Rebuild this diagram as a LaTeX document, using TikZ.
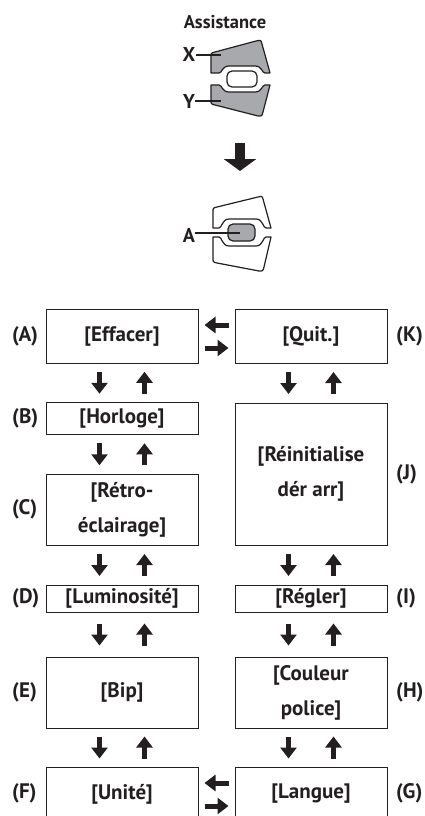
\documentclass[tikz,border=0pt]{standalone}
\usepackage{fontspec}
\setmainfont{PT Sans}
\usetikzlibrary{arrows.meta,calc}
\definecolor{ink}{HTML}{231F20}
\definecolor{paddle}{HTML}{A7A9AC}

\begin{document}
\begin{tikzpicture}[x=1pt,y=-1pt,
  box/.style={draw=ink, line width=0.9pt, minimum width=152pt, inner sep=0pt,
    align=center, text=ink, font=\fontsize{21}{35}\selectfont\bfseries},
  tag/.style={anchor=west, inner sep=0pt, text=ink, font=\fontsize{21}{24}\selectfont\bfseries},
  keylabel/.style={inner sep=0pt, text=ink, font=\fontsize{20}{24}\selectfont\bfseries},
  blk/.style={draw=ink, line width=5pt, -{Triangle[width=16pt,length=11pt]}},
  bigblk/.style={draw=ink, line width=10pt, -{Triangle[width=32pt,length=12pt]}},
  lever/.style={draw=ink, line width=1.2pt, line join=round},
  leader/.style={draw=ink, line width=1.2pt},
]
\useasboundingbox (0,0) rectangle (425,816);
\clip (0,0) rectangle (425,816);

% ---------- assistance switch: X / Y paddles ----------
\node[keylabel, font=\fontsize{18.5}{22}\selectfont\bfseries] (assist) at (225,22) {Assistance};

\draw[lever, fill=paddle] (211,73) -- (211,57) .. controls (211,53) .. (215,52)
  -- (256,41) .. controls (261,40) .. (262,44) -- (270,73) -- (265,73)
  .. controls (262,73) and (262,66) .. (255,66) -- (229,66)
  .. controls (222,66) and (222,73) .. (219,73) -- cycle;
\draw[lever, fill=paddle] (211,85) -- (219,85)
  .. controls (222,85) and (222,92) .. (229,92) -- (255,92)
  .. controls (262,92) and (262,85) .. (265,85) -- (270,85)
  -- (263,112) .. controls (262,116) .. (258,116)
  -- (215,105) .. controls (211,104) .. (211,100) -- cycle;
\draw[lever, fill=white, rounded corners=5pt] (227,71) rectangle (257,87);

\node[keylabel] (X) at (189,54) {X};
\node[keylabel] (Y) at (189,101) {Y};
\coordinate (xend) at (221,55);
\coordinate (yend) at (221,101);
\draw[leader] (X.east |- xend) -- (xend);
\draw[leader] (Y.east |- yend) -- (yend);

% ---------- big arrow ----------
\coordinate (bigtop) at (240,143);
\coordinate (bigtip) at (240,171);
\draw[bigblk] (bigtop) -- (bigtip);

% ---------- switch with button A ----------
\draw[lever, fill=white] (213,228) -- (213,212) .. controls (213,208) .. (217,207)
  -- (258,197) .. controls (262,196) .. (263,199) -- (271,228) -- (266,228)
  .. controls (263,228) and (263,219) .. (256,219) -- (229,219)
  .. controls (222,219) and (222,228) .. (219,228) -- cycle;
\draw[lever, fill=white] (213,237) -- (219,237)
  .. controls (222,237) and (222,246) .. (229,246) -- (256,246)
  .. controls (263,246) and (263,237) .. (266,237) -- (271,237)
  -- (264,267) .. controls (263,271) .. (259,271)
  -- (217,263) .. controls (213,262) .. (213,258) -- cycle;
\draw[lever, fill=paddle, rounded corners=5pt] (228,224) rectangle (255,241);

\node[keylabel] (keyA) at (189,235) {A};
\coordinate (aend) at (240,233);
\draw[leader] (keyA.east |- aend) -- (aend);

% ---------- menu boxes ----------
\node[box, minimum height=54pt] (A) at (122,336) {[Effacer]};
\node[box, minimum height=32pt] (B) at (122,418.5) {[Horloge]};
\node[box, minimum height=71pt] (C) at (122,509.5) {[Rétro-\\éclairage]};
\node[box, minimum height=27pt] (D) at (122,598.5) {[Luminosité]};
\node[box, minimum height=71pt] (E) at (122,692.5) {[Bip]};
\node[box, minimum height=54pt] (F) at (122,794) {[Unité]};

\node[box, minimum height=54pt] (K) at (311,336) {[Quit.]};
\node[box, minimum height=142pt] (J) at (311,474) {[Réinitialise\\dér arr]};
\node[box, minimum height=27pt] (I) at (311,598.5) {[Régler]};
\node[box, minimum height=71pt] (H) at (311,692.5) {[Couleur\\police]};
\node[box, minimum height=54pt] (G) at (311,794) {[Langue]};

% ---------- side tags ----------
\node[tag] (tA) at (12,336) {(A)};
\node[tag] (tB) at (12,418.5) {(B)};
\node[tag] (tC) at (12,509.5) {(C)};
\node[tag] (tD) at (12,598.5) {(D)};
\node[tag] (tE) at (12,692.5) {(E)};
\node[tag] (tF) at (12,793) {(F)};
\node[tag] (tK) at (396,336) {(K)};
\node[tag] (tJ) at (396,474) {(J)};
\node[tag] (tI) at (396,598.5) {(I)};
\node[tag] (tH) at (396,692.5) {(H)};
\node[tag] (tG) at (396,793) {(G)};

% ---------- navigation arrows ----------
\newcommand\navpair[2]{%
  \draw[blk] ($(#1.south)!0.5!(#2.north)+(-22.5,-11)$) -- ++(0,22);
  \draw[blk] ($(#1.south)!0.5!(#2.north)+(22.5,11)$) -- ++(0,-22);
}
\navpair{A}{B}
\navpair{B}{C}
\navpair{C}{D}
\navpair{D}{E}
\navpair{E}{F}
\navpair{K}{J}
\navpair{J}{I}
\navpair{I}{H}
\navpair{H}{G}

\newcommand\navside[2]{%
  \draw[blk] ($(#1.east)!0.5!(#2.west)+(12,-11)$) -- ++(-24,0);
  \draw[blk] ($(#1.east)!0.5!(#2.west)+(-12,12)$) -- ++(24,0);
}
\navside{A}{K}
\navside{F}{G}
\end{tikzpicture}
\end{document}
